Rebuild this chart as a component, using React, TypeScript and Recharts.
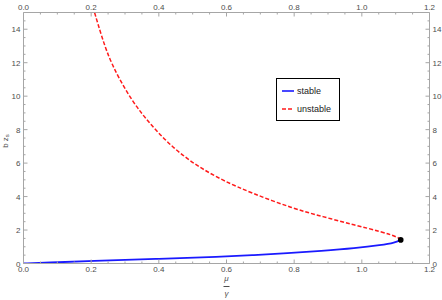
import { ComposedChart, Line, Scatter, XAxis, YAxis } from "recharts"

// mu/gamma (x) against b z_s (y), traced along each branch
const stableX = [0, 0.07, 0.2, 0.39, 0.585, 0.68, 0.78, 0.88, 0.98, 1.058, 1.098, 1.115]
const stableY = [0, 0.05, 0.15, 0.27, 0.41, 0.5, 0.61, 0.75, 0.91, 1.1, 1.25, 1.41]

const unstableX = [1.115, 1.108, 1.058, 0.979, 0.884, 0.795, 0.675, 0.59, 0.515, 0.445, 0.38, 0.317, 0.258, 0.232, 0.21]
const unstableY = [1.41, 1.57, 1.9, 2.3, 2.8, 3.3, 4.2, 4.95, 5.8, 6.85, 8.18, 9.78, 11.97, 13.5, 15]

const foldX = [1.115]
const foldY = [1.41]

const xMajor = [0, 0.2, 0.4, 0.6, 0.8, 1.0, 1.2]
const yMajor = [0, 2, 4, 6, 8, 10, 12, 14]

const STABLE = "#1a1aff"
const UNSTABLE = "#ff1a1a"

const legendItems = [
  { name: "stable", color: STABLE, dash: undefined },
  { name: "unstable", color: UNSTABLE, dash: "4 2" },
]

const zip = (xs: number[], ys: number[]) => xs.map((x, i) => ({ x, y: ys[i] }))
const stable = zip(stableX, stableY)
const unstable = zip(unstableX, unstableY)
const fold = zip(foldX, foldY)

// minor ticks: four per major interval
const withMinor = (major: number[], upTo: number) => {
  const step = (major[1] - major[0]) / 4
  const out: number[] = []
  for (let i = 0; major[0] + i * step <= upTo + 1e-9; i++) out.push(+(major[0] + i * step).toFixed(4))
  return out
}
const xTicks = withMinor(xMajor, 1.2)
const yTicks = withMinor(yMajor, 14.5)

const AXIS = "#a6a6a6"
const LABEL = "#4d4d4d"
const FONT = "'Liberation Sans', Arial, sans-serif"
const GAP = 3

type Side = "top" | "bottom" | "left" | "right"

const makeTick = (side: Side, major: number[], fmt: (v: number) => string) => (props: any) => {
  const { x, y, payload } = props
  const v = payload.value as number
  const isMajor = major.some((m) => Math.abs(m - v) < 1e-6)
  const len = isMajor ? 4 : 2
  let line
  let text = null
  if (side === "bottom") {
    const ay = y - GAP
    line = <line x1={x} x2={x} y1={ay} y2={ay - len} stroke={AXIS} />
    if (isMajor) text = <text x={x} y={y + 5.5} textAnchor="middle">{fmt(v)}</text>
  } else if (side === "top") {
    const ay = y + GAP
    line = <line x1={x} x2={x} y1={ay} y2={ay + len} stroke={AXIS} />
    if (isMajor) text = <text x={x} y={y} textAnchor="middle">{fmt(v)}</text>
  } else if (side === "left") {
    const ax = x + GAP
    line = <line x1={ax} x2={ax + len} y1={y} y2={y} stroke={AXIS} />
    if (isMajor) text = <text x={x} y={y + 3} textAnchor="end">{fmt(v)}</text>
  } else {
    const ax = x - GAP
    line = <line x1={ax} x2={ax - len} y1={y} y2={y} stroke={AXIS} />
    if (isMajor) text = <text x={x} y={y + 3} textAnchor="start">{fmt(v)}</text>
  }
  return (
    <g fontSize={8} fontFamily={FONT} fill={LABEL}>
      {line}
      {text}
    </g>
  )
}

const fmtX = (v: number) => v.toFixed(1)
const fmtY = (v: number) => String(v)

function LegendBox() {
  return (
    <div
      style={{
        position: "absolute",
        left: 276,
        top: 78,
        width: 62,
        height: 41,
        border: "1px solid #000",
        background: "#fff",
        fontFamily: FONT,
        fontSize: 9,
        color: "#222",
      }}
    >
      {legendItems.map((it, i) => (
        <div key={it.name} style={{ position: "absolute", left: 5, top: i === 0 ? 7 : 25, display: "flex", alignItems: "center" }}>
          <svg width={12} height={6} style={{ marginRight: 3 }}>
            <line x1={0} x2={12} y1={3} y2={3} stroke={it.color} strokeWidth={1.6} strokeDasharray={it.dash} />
          </svg>
          <span style={{ lineHeight: "10px" }}>{it.name}</span>
        </div>
      ))}
    </div>
  )
}

function AxisTitles() {
  return (
    <svg width={442} height={300} style={{ position: "absolute", left: 0, top: 0, pointerEvents: "none" }}>
      <g fontFamily={FONT} fill={LABEL} fontSize={8}>
        <text x={7.5} y={141} textAnchor="middle" transform="rotate(-90 7.5 141)">
          b z<tspan fontSize={6} dy={1.5}>s</tspan>
        </text>
        <text x={226.5} y={281} textAnchor="middle" fontStyle="italic">μ</text>
        <line x1={223.5} x2={229.5} y1={286.5} y2={286.5} stroke={LABEL} />
        <text x={226.5} y={295.5} textAnchor="middle" fontStyle="italic">γ</text>
      </g>
    </svg>
  )
}

export default function App() {
  return (
    <div style={{ position: "absolute", left: 0, top: 0, width: 442, height: 300, background: "#fff" }}>
      <ComposedChart width={442} height={300} margin={{ top: 0, right: 0, bottom: 0, left: 0 }}>
        <XAxis
          xAxisId="b"
          orientation="bottom"
          type="number"
          dataKey="x"
          domain={[0, 1.2]}
          ticks={xTicks}
          interval={0}
          height={36.5}
          tickSize={0}
          tickMargin={GAP}
          tickLine={false}
          axisLine={{ stroke: AXIS }}
          tick={makeTick("bottom", xMajor, fmtX)}
          allowDataOverflow
        />
        <XAxis
          xAxisId="t"
          orientation="top"
          type="number"
          dataKey="x"
          domain={[0, 1.2]}
          ticks={xTicks}
          interval={0}
          height={12.5}
          tickSize={0}
          tickMargin={GAP}
          tickLine={false}
          axisLine={{ stroke: AXIS }}
          tick={makeTick("top", xMajor, fmtX)}
          allowDataOverflow
        />
        <YAxis
          yAxisId="l"
          orientation="left"
          type="number"
          dataKey="y"
          domain={[0, 15]}
          ticks={yTicks}
          interval={0}
          width={23.5}
          tickSize={0}
          tickMargin={GAP}
          tickLine={false}
          axisLine={{ stroke: AXIS }}
          tick={makeTick("left", yMajor, fmtY)}
          allowDataOverflow
        />
        <YAxis
          yAxisId="r"
          orientation="right"
          type="number"
          dataKey="y"
          domain={[0, 15]}
          ticks={yTicks}
          interval={0}
          width={12.5}
          tickSize={0}
          tickMargin={GAP}
          tickLine={false}
          axisLine={{ stroke: AXIS }}
          tick={makeTick("right", yMajor, fmtY)}
          allowDataOverflow
        />
        {/* invisible series so the top/right frame axes get drawn */}
        <Line
          xAxisId="t"
          yAxisId="r"
          data={stable}
          dataKey="y"
          stroke="none"
          dot={false}
          activeDot={false}
          legendType="none"
          isAnimationActive={false}
        />
        <Line
          xAxisId="b"
          yAxisId="l"
          data={stable}
          dataKey="y"
          name="stable"
          type="basis"
          stroke={STABLE}
          strokeWidth={1.8}
          dot={false}
          activeDot={false}
          isAnimationActive={false}
        />
        <Line
          xAxisId="b"
          yAxisId="l"
          data={unstable}
          dataKey="y"
          name="unstable"
          type="basis"
          stroke={UNSTABLE}
          strokeWidth={1.5}
          strokeDasharray="4 2"
          dot={false}
          activeDot={false}
          isAnimationActive={false}
        />
        <Scatter
          xAxisId="b"
          yAxisId="l"
          data={fold}
          dataKey="y"
          fill="#000"
          shape={(p: any) => <circle cx={p.cx} cy={p.cy} r={2.8} fill="#000" />}
          legendType="none"
          isAnimationActive={false}
        />
      </ComposedChart>
      <LegendBox />
      <AxisTitles />
    </div>
  )
}
